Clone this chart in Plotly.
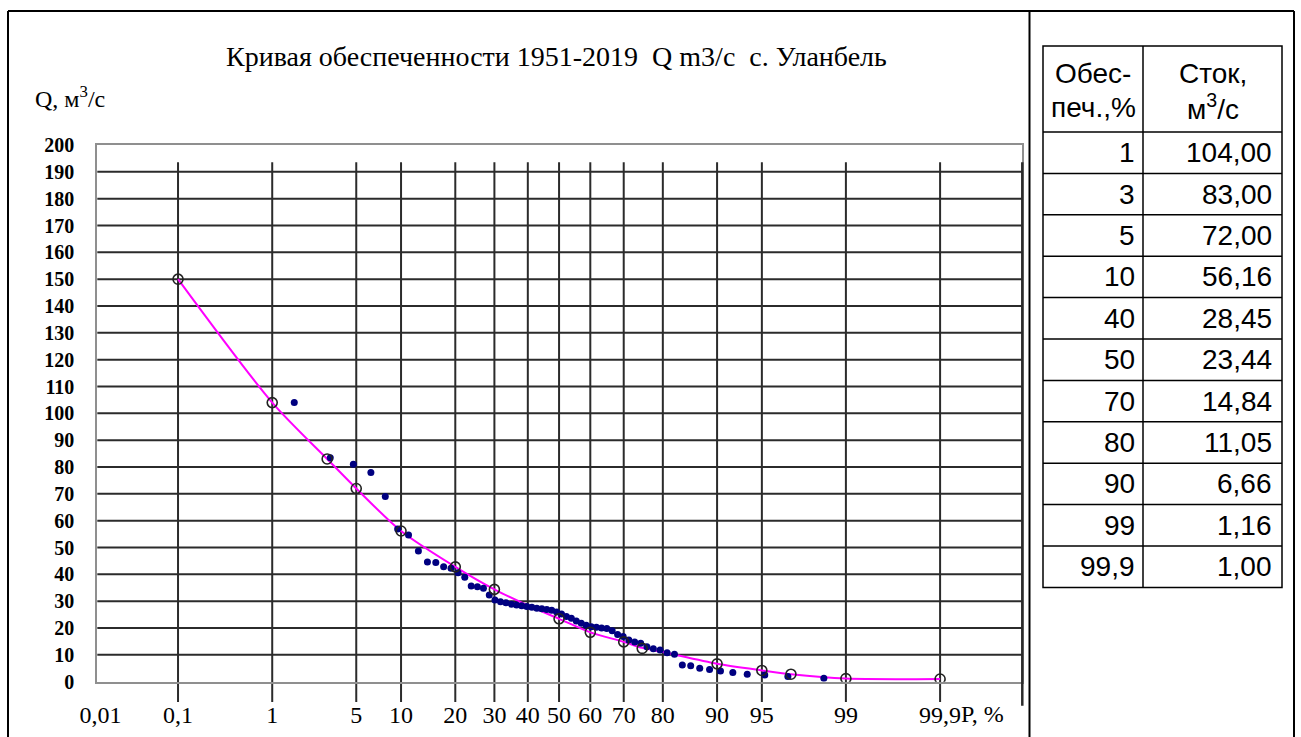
from statistics import NormalDist
import plotly.graph_objects as go

W, H = 1301, 737
_nd = NormalDist()


def z(p):
    return _nd.inv_cdf(p / 100.0)


# ---------------- data ----------------
# theoretical curve (magenta line)
curve_p = [0.1, 1, 3, 5, 10, 20, 30, 40, 50, 60, 70, 75, 80, 90, 95, 97, 99, 99.9]
curve_q = [150, 104, 83, 72, 56.16, 42.8, 34.4, 28.45, 23.44, 18.4, 14.84, 12.6, 11.05, 6.66, 4.2, 2.8, 1.16, 1.0]

# open circles on the curve
circle_p = [0.1, 1, 3, 5, 10, 20, 30, 50, 60, 70, 75, 90, 95, 97, 99, 99.9]
circle_q = [150, 104, 83, 72, 56.16, 42.8, 34.4, 23.44, 18.4, 14.84, 12.4, 6.66, 4.2, 2.8, 1.16, 1.0]

# empirical points (rank m, P = m/(n+1))
obs_q = [104, 83.5, 81, 78, 69, 56.9, 54.7, 48.7, 44.6, 44.4,
         42.8, 42.3, 40.6, 38.9, 35.7, 35.4, 34.8, 32.3, 30.4, 29.8,
         29.4, 28.9, 28.6, 28.3, 28.0, 27.7, 27.4, 27.2, 26.9, 26.6,
         26.0, 25.2, 24.3, 23.6, 22.6, 21.8, 21.0, 20.5, 20.3, 20.0,
         19.8, 19.0, 17.6, 16.8, 15.5, 14.8, 14.3, 13.0, 12.3, 11.8,
         10.8, 10.2, 6.2, 5.9, 5.0, 4.5, 4.0, 3.4, 2.8, 2.5,
         1.9, 1.3]
n_obs = len(obs_q)
obs_p = [100.0 * (i + 1) / (n_obs + 1) for i in range(n_obs)]

# axis ticks
x_tick_p = [0.01, 0.1, 1, 5, 10, 20, 30, 40, 50, 60, 70, 80, 90, 95, 99, 99.9]
x_tick_text = ["0,01", "0,1", "1", "5", "10", "20", "30", "40", "50", "60",
               "70", "80", "90", "95", "99", "99,9"]
x_grid_p = [0.1, 1, 5, 10, 20, 30, 40, 50, 60, 70, 80, 90, 95, 99, 99.9]
y_ticks = list(range(0, 201, 10))
y_grid = list(range(10, 200, 10))

# table
tab_p = [1, 3, 5, 10, 40, 50, 70, 80, 90, 99, 99.9]
tab_q = [104.00, 83.00, 72.00, 56.16, 28.45, 23.44, 14.84, 11.05, 6.66, 1.16, 1.00]
tab_head_left = ["Обес-", "печ.,%"]
tab_head_right = ["Сток,", "м<sup>3</sup>/с"]

title_text = "Кривая обеспеченности 1951-2019\u00a0\u00a0Q m3/c\u00a0\u00a0с. Уланбель"

# ---------------- helpers (layout pixel -> paper) ----------------
def px(xp):
    return xp / W


def py(yp):
    return 1 - yp / H


SERIF = "Liberation Serif, Times New Roman, serif"
SANS = "Liberation Sans, Arial, sans-serif"
GRID = "#2b2b2b"
BORDER = "#8f8f8f"

fig = go.Figure()

fig.add_trace(go.Scatter(
    x=[z(p) for p in curve_p], y=curve_q, mode="lines",
    line=dict(color="#ff00ff", width=2, shape="spline", smoothing=0.8),
    hoverinfo="skip", showlegend=False))

fig.add_trace(go.Scatter(
    x=[z(p) for p in obs_p], y=obs_q, mode="markers",
    marker=dict(color="#000080", size=7, line=dict(width=0)),
    showlegend=False))

fig.add_trace(go.Scatter(
    x=[z(p) for p in circle_p], y=circle_q, mode="markers",
    marker=dict(symbol="circle-open", color="#222222", size=10, line=dict(width=1.6)),
    showlegend=False))

shapes = []
# vertical grid lines (extend a bit below the axis)
for p in x_grid_p:
    shapes.append(dict(type="line", xref="x", yref="y domain",
                       x0=z(p), x1=z(p), y0=-0.038, y1=0.968,
                       line=dict(color=GRID, width=2), layer="below"))
# dark line on right border
shapes.append(dict(type="line", xref="x domain", yref="y domain",
                   x0=1.0, x1=1.0, y0=-0.045, y1=0.968,
                   line=dict(color=GRID, width=2.5), layer="above"))
# horizontal grid lines
for v in y_grid:
    shapes.append(dict(type="line", xref="x domain", yref="y",
                       x0=0, x1=1, y0=v, y1=v,
                       line=dict(color=GRID, width=2), layer="below"))

# outer frame
FRAME = dict(color="black", width=2)
fL, fT, fM, fR = 8, 11, 1029.5, 1294
shapes += [
    dict(type="line", xref="paper", yref="paper", x0=px(fL), x1=px(fR), y0=py(fT), y1=py(fT), line=FRAME),
    dict(type="line", xref="paper", yref="paper", x0=px(fL), x1=px(fL), y0=py(fT), y1=py(H + 5), line=FRAME),
    dict(type="line", xref="paper", yref="paper", x0=px(fM), x1=px(fM), y0=py(fT), y1=py(H + 5), line=FRAME),
    dict(type="line", xref="paper", yref="paper", x0=px(fR), x1=px(fR), y0=py(fT), y1=py(H + 5), line=FRAME),
]

# table geometry
tL, tM, tR = 1043, 1143, 1282
tT, tHB = 46, 132
row_h = 41.4
n_rows = len(tab_p)
tB = tHB + n_rows * row_h
TL = dict(color="black", width=1.5)
shapes.append(dict(type="rect", xref="paper", yref="paper",
                   x0=px(tL), x1=px(tR), y0=py(tT), y1=py(tB), line=TL))
shapes.append(dict(type="line", xref="paper", yref="paper",
                   x0=px(tM), x1=px(tM), y0=py(tT), y1=py(tB), line=TL))
for i in range(n_rows):
    yy = tHB + i * row_h
    shapes.append(dict(type="line", xref="paper", yref="paper",
                       x0=px(tL), x1=px(tR), y0=py(yy), y1=py(yy), line=TL))

annotations = []
annotations.append(dict(text=title_text, xref="paper", yref="paper",
                        x=px(556), y=py(57), xanchor="center", yanchor="middle",
                        showarrow=False, font=dict(family=SERIF, size=28, color="black")))
annotations.append(dict(text="Q, м<sup>3</sup>/с", xref="paper", yref="paper",
                        x=px(33), y=py(97), xanchor="left", yanchor="middle",
                        showarrow=False, font=dict(family=SERIF, size=24, color="black")))
annotations.append(dict(text="P, %", xref="x", yref="paper",
                        x=z(99.9), y=py(714), xanchor="left", yanchor="middle", xshift=19,
                        showarrow=False, font=dict(family=SERIF, size=24, color="black")))

TF = dict(family=SANS, size=28, color="black")
head_y = [73, 107]
for k in range(2):
    annotations.append(dict(text=tab_head_left[k], xref="paper", yref="paper",
                            x=px((tL + tM) / 2), y=py(head_y[k]), xanchor="center", yanchor="middle",
                            showarrow=False, font=TF))
    annotations.append(dict(text=tab_head_right[k], xref="paper", yref="paper",
                            x=px((tM + tR) / 2), y=py(head_y[k]), xanchor="center", yanchor="middle",
                            showarrow=False, font=TF))
for i, (p, q) in enumerate(zip(tab_p, tab_q)):
    yc = tHB + (i + 0.5) * row_h
    ptxt = (f"{p:g}").replace(".", ",")
    qtxt = f"{q:.2f}".replace(".", ",")
    annotations.append(dict(text=ptxt, xref="paper", yref="paper", x=px(tM - 6), y=py(yc),
                            xanchor="right", yanchor="middle", showarrow=False, font=TF))
    annotations.append(dict(text=qtxt, xref="paper", yref="paper", x=px(tR - 8), y=py(yc),
                            xanchor="right", yanchor="middle", showarrow=False, font=TF))

x0px, x1px = 97.3, 1022.3
y0px, y1px = 681.7, 145.0

fig.update_layout(
    template="none",
    width=W, height=H,
    margin=dict(l=0, r=0, t=0, b=0, pad=0, autoexpand=False),
    paper_bgcolor="white", plot_bgcolor="white",
    showlegend=False,
    shapes=shapes, annotations=annotations,
    xaxis=dict(domain=[px(x0px), px(x1px)], range=[-3.745, 3.757], automargin=False,
               tickmode="array", tickvals=[z(p) for p in x_tick_p], ticktext=x_tick_text,
               showgrid=False, zeroline=False, showline=True, linecolor=BORDER, linewidth=2,
               mirror=True, ticks="", ticklabelstandoff=10,
               tickfont=dict(family=SERIF, size=24, color="black")),
    yaxis=dict(domain=[1 - y0px / H, 1 - y1px / H], range=[0, 200], automargin=False,
               tickmode="array", tickvals=y_ticks, ticktext=[str(v) for v in y_ticks],
               showgrid=False, zeroline=False, showline=True, linecolor=BORDER, linewidth=2,
               mirror=True, ticks="", ticklabelstandoff=17,
               tickfont=dict(family=SERIF, size=20, color="black", weight="bold")),
)

fig.write_html("out.html")
